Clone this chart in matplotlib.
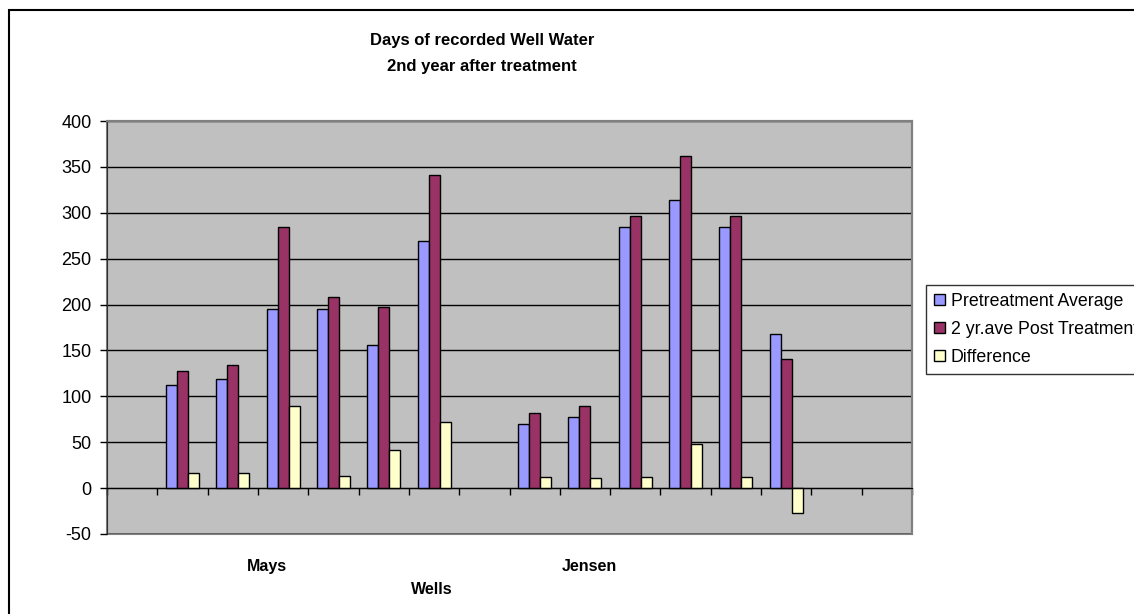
import matplotlib.pyplot as plt
import numpy as np
from matplotlib.patches import Rectangle

plt.rcParams['font.family'] = ['Liberation Sans', 'DejaVu Sans']
plt.rcParams['axes.unicode_minus'] = False

# wells per site, in category order
groups = ['Mays', 'Jensen']
group_label_x = [2.68, 9.08]
well_slots = [1, 2, 3, 4, 5, 6, 8, 9, 10, 11, 12, 13]
n_slots = 16
series = ['Pretreatment Average', '2 yr.ave Post Treatment', 'Difference']
pre = [112, 119, 195, 195, 156, 269, 70, 78, 284, 314, 284, 168]
post = [128, 134, 285, 208, 197, 341, 82, 89, 296, 362, 296, 141]
diff = [16, 16, 90, 13, 41, 72, 12, 11, 12, 48, 12, -27]
colors = ['#9999FF', '#993366', '#FFFFCC']
yticks = list(range(-50, 401, 50))

W, H = 1134, 614
fig = plt.figure(figsize=(W / 100, H / 100), dpi=100, facecolor='white')
ax = fig.add_axes([107 / W, 1 - 534 / H, (912 - 107) / W, (534 - 121) / H])
ax.set_facecolor('#C0C0C0')

x = np.array(well_slots, dtype=float)
bw = 0.219
for i, (vals, c, lab) in enumerate(zip([pre, post, diff], colors, series)):
    ax.bar(x + (i - 1) * bw, vals, width=bw, color=c, edgecolor='black',
           linewidth=1, label=lab, zorder=3)

ax.set_xlim(-0.5, n_slots - 0.5)
ax.set_ylim(-50, 400)
ax.set_yticks(yticks)
ax.yaxis.grid(True, color='black', linewidth=1)
ax.set_axisbelow(True)
ax.tick_params(axis='y', length=5, width=1, pad=6, labelsize=13, direction='out')

# category axis sits on zero, ticks between the category slots
ax.spines['bottom'].set_position(('data', 0))
ax.spines['bottom'].set_color('black')
ax.spines['bottom'].set_zorder(4)
ax.set_xticks(np.arange(-0.5, n_slots, 1.0))
ax.tick_params(axis='x', length=5, width=1, direction='out', labelbottom=False)
ax.spines['left'].set_color('#303030')
for s in ['top', 'right']:
    ax.spines[s].set_color('#808080')
    ax.spines[s].set_linewidth(1.5)
ax.patch.set_edgecolor('#808080')
ax.patch.set_linewidth(1.5)

for name, gx in zip(groups, group_label_x):
    ax.text(gx, -0.0775, name, transform=ax.get_xaxis_transform(),
            ha='center', va='center', fontsize=11.5, fontweight='bold')

fig.text(482 / W, 1 - 41 / H, 'Days of recorded Well Water', ha='center', va='center',
         fontsize=12, fontweight='bold')
fig.text(482 / W, 1 - 66 / H, '2nd year after treatment', ha='center', va='center',
         fontsize=12, fontweight='bold')
fig.text(432 / W, 1 - 590 / H, 'Wells', ha='center', va='center',
         fontsize=11.5, fontweight='bold')

leg = fig.legend(loc='upper left', bbox_to_anchor=(926 / W, 1 - 285 / H),
                 frameon=True, fancybox=False, edgecolor='black', fontsize=12.8,
                 handlelength=0.6, handleheight=0.6, handletextpad=0.35,
                 borderaxespad=0, borderpad=0.45, labelspacing=0.62)
leg.get_frame().set_linewidth(1)

# chart area border
fig.add_artist(Rectangle((9 / W, -0.05), 1.0, 1.05 - 10 / H, transform=fig.transFigure,
                         fill=False, edgecolor='black', linewidth=1.5))

fig.savefig('out.png', dpi=100, facecolor='white')
